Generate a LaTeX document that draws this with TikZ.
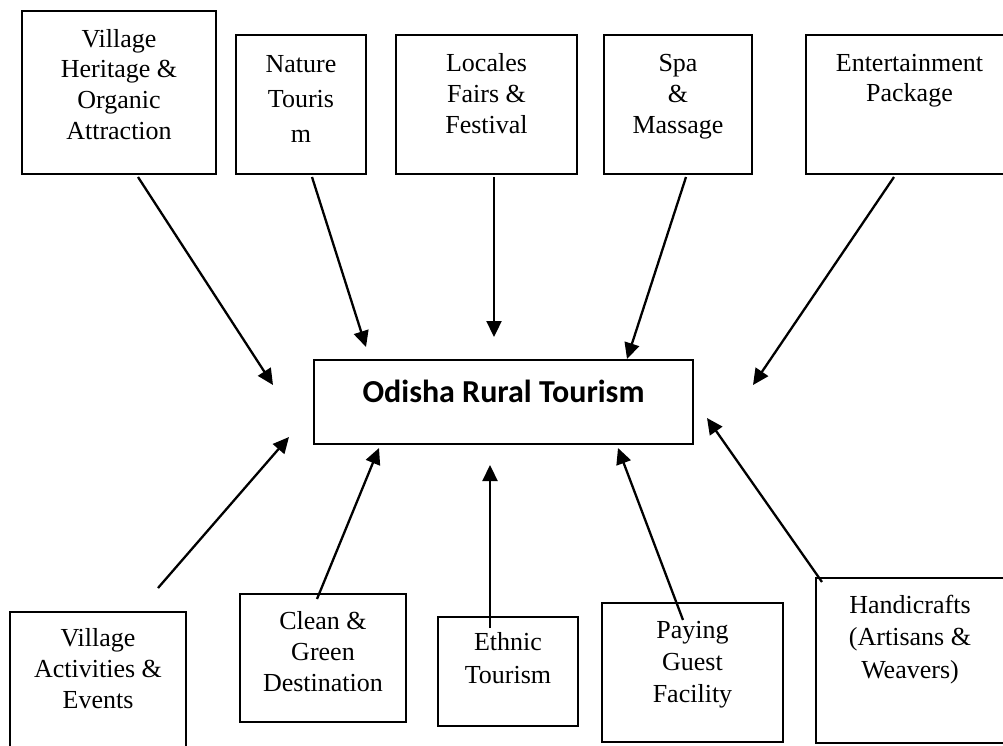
\documentclass[tikz,border=0pt]{standalone}
\usepackage{fontspec}
\setmainfont{Liberation Serif}
\newfontfamily\calib{Carlito}
\usetikzlibrary{arrows.meta}
\newcommand\bt[5]{\parbox[c][#2pt][t]{#1pt}{\centering\fontsize{26}{#4}\selectfont\rule{0pt}{#3pt}#5\par}}
\begin{document}
\begin{tikzpicture}[x=1pt,y=-1pt,
  box/.style={draw, line width=1.4pt, inner sep=0pt, outer sep=0pt, anchor=north west},
  arr/.style={line width=2.3pt, -{Triangle[length=16pt,width=15pt]}}]
\useasboundingbox (0,0) rectangle (1003,745);
\clip (0,0) rectangle (1003,745);
% top boxes
\node[box] (vh) at (22,11) {\bt{194}{163}{36}{30.7}{Village\\Heritage \&\\Organic\\Attraction}};
\node[box] (nt) at (236,35) {\bt{130}{139}{37}{35}{Nature\\Touris\\m}};
\node[box] (lf) at (396,35) {\bt{181}{139}{36}{31}{Locales\\Fairs \&\\Festival}};
\node[box] (sp) at (604,35) {\bt{148}{139}{36}{31}{Spa\\\&\\Massage}};
\node[box] (ep) at (806,35) {\bt{207}{139}{36}{30}{Entertainment\\Package}};
% centre
\node[box] (ort) at (314,360) {\parbox[c][84pt][t]{379pt}{\centering\calib\bfseries\fontsize{32}{36}\selectfont\rule{0pt}{42pt}Odisha Rural Tourism\par}};
% bottom boxes
\node[box] (va) at (10,612) {\bt{176}{150}{34}{31}{Village\\Activities \&\\Events}};
\node[box] (cg) at (240,594) {\bt{166}{128}{35}{31}{Clean \&\\Green\\Destination}};
\node[box] (et) at (438,617) {\bt{140}{109}{33}{33}{Ethnic\\Tourism}};
\node[box] (pg) at (602,603) {\bt{181}{139}{35}{32}{Paying\\Guest\\Facility}};
\node[box] (hc) at (816,578) {\bt{188}{165}{35}{32.5}{Handicrafts\\(Artisans \&\\Weavers)}};
% arrow end points
\coordinate (a1s) at (138,177); \coordinate (a1e) at (273,385);
\coordinate (a2s) at (312,177); \coordinate (a2e) at (366,347);
\coordinate (a3s) at (494,177); \coordinate (a3e) at (494,337);
\coordinate (a4s) at (686,177); \coordinate (a4e) at (627,359);
\coordinate (a5s) at (894,177); \coordinate (a5e) at (753,385);
\coordinate (b1s) at (158,588); \coordinate (b1e) at (289,437);
\coordinate (b2s) at (317,599); \coordinate (b2e) at (379,448);
\coordinate (b3s) at (490,628); \coordinate (b3e) at (490,465);
\coordinate (b4s) at (683,620); \coordinate (b4e) at (618,448);
\coordinate (b5s) at (822,582); \coordinate (b5e) at (707,418);
\draw[arr] (a1s) -- (a1e);
\draw[arr] (a2s) -- (a2e);
\draw[arr] (a3s) -- (a3e);
\draw[arr] (a4s) -- (a4e);
\draw[arr] (a5s) -- (a5e);
\draw[arr] (b1s) -- (b1e);
\draw[arr] (b2s) -- (b2e);
\draw[arr] (b3s) -- (b3e);
\draw[arr] (b4s) -- (b4e);
\draw[arr] (b5s) -- (b5e);
\end{tikzpicture}
\end{document}
